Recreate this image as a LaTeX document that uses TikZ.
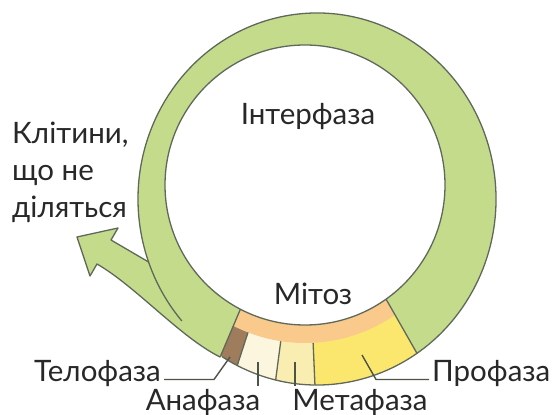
\documentclass[tikz,border=0pt]{standalone}
\usepackage{fontspec}
\setmainfont{Lato}

\definecolor{ringgreen}{RGB}{197,219,140}
\definecolor{edgegray}{RGB}{95,105,90}
\definecolor{mitorange}{RGB}{250,201,140}
\definecolor{prophase}{RGB}{252,231,110}
\definecolor{metaphase}{RGB}{250,237,178}
\definecolor{anaphase}{RGB}{252,246,222}
\definecolor{telophase}{RGB}{158,124,92}
\definecolor{labelgray}{RGB}{40,40,40}

\begin{document}
\begin{tikzpicture}[x=1pt, y=1pt,
      outline/.style = {draw=edgegray, line width=1.3pt},
      leader/.style = {draw=edgegray!80!black, line width=1.4pt},
      every node/.style = {text=labelgray, inner sep=0pt,
        font=\fontsize{29.5}{37}\selectfont}]
  \useasboundingbox (0,0) rectangle (557,415);
  \coordinate (C) at (305,230); % inner circle
  \coordinate (O) at (317,216); % outer edge of the ring
  \coordinate (W) at (305,258); % the phase borders meet here
  % arrow of the cells that leave the cycle
  \filldraw[fill=ringgreen, outline, line join=round]
    (220,58) .. controls (180,78) and (136,128.5) .. (97,151)
    -- (90,139) -- (77,178) -- (118,187) -- (111,175)
    -- (205,120) -- (235,80) -- cycle;
  % ring
  \fill[ringgreen] (O) ellipse [x radius=179, y radius=186];
  \begin{scope}
    \clip (O) ellipse [x radius=179, y radius=186];
    \fill[telophase] (W) -- +(247:260) arc [start angle=247, end angle=252, radius=260] -- cycle;
    \fill[anaphase] (W) -- +(252:260) arc [start angle=252, end angle=262.5, radius=260] -- cycle;
    \fill[metaphase] (W) -- +(262.5:260) arc [start angle=262.5, end angle=272.5, radius=260] -- cycle;
    \fill[prophase] (W) -- +(272.5:260) arc [start angle=272.5, end angle=299.7, radius=260] -- cycle;
    \draw[outline] (W) -- +(252:260) (W) -- +(262.5:260) (W) -- +(272.5:260);
    \begin{scope}
      \clip (W) -- +(247:260) arc [start angle=247, end angle=299.7, radius=260] -- cycle;
      \fill[mitorange] (C) circle (158);
    \end{scope}
    \draw[outline] (W) -- +(247:260) (W) -- +(299.7:260);
  \end{scope}
  \filldraw[fill=white, outline] (C) circle (140);
  \draw[outline] (O) ++(238:179 and 186)
    arc [start angle=238, end angle=581, x radius=179, y radius=186];

  % labels
  \node[anchor=base] (interphase) at (308,290) {Інтерфаза};
  \node[anchor=base] (mitosis) at (313,110) {Мітоз};
  \node[anchor=north west, align=left] (resting) at (12,293)
    {Клітини,\\що не\\діляться};
  \node[anchor=base east] (telo) at (161,33) {Телофаза};
  \node[anchor=base] (ana) at (203,5) {Анафаза};
  \node[anchor=base] (meta) at (360,5) {Метафаза};
  \node[anchor=base west] (pro) at (432,33) {Профаза};

  \coordinate (telo tip) at (230,58);
  \coordinate (ana tip) at (258,53);
  \coordinate (meta tip) at (295,53);
  \coordinate (pro tip) at (362,60);
  \draw[leader] (telo.mid east) ++(3,0) -- ++(50,0) -- (telo tip);
  \draw[leader] (ana tip) -- ([yshift=3]ana tip |- ana.north);
  \draw[leader] (meta tip) -- ([yshift=3]meta tip |- meta.north);
  \draw[leader] (pro.mid west) ++(-3,0) -- ++(-53,0) -- (pro tip);
\end{tikzpicture}
\end{document}
